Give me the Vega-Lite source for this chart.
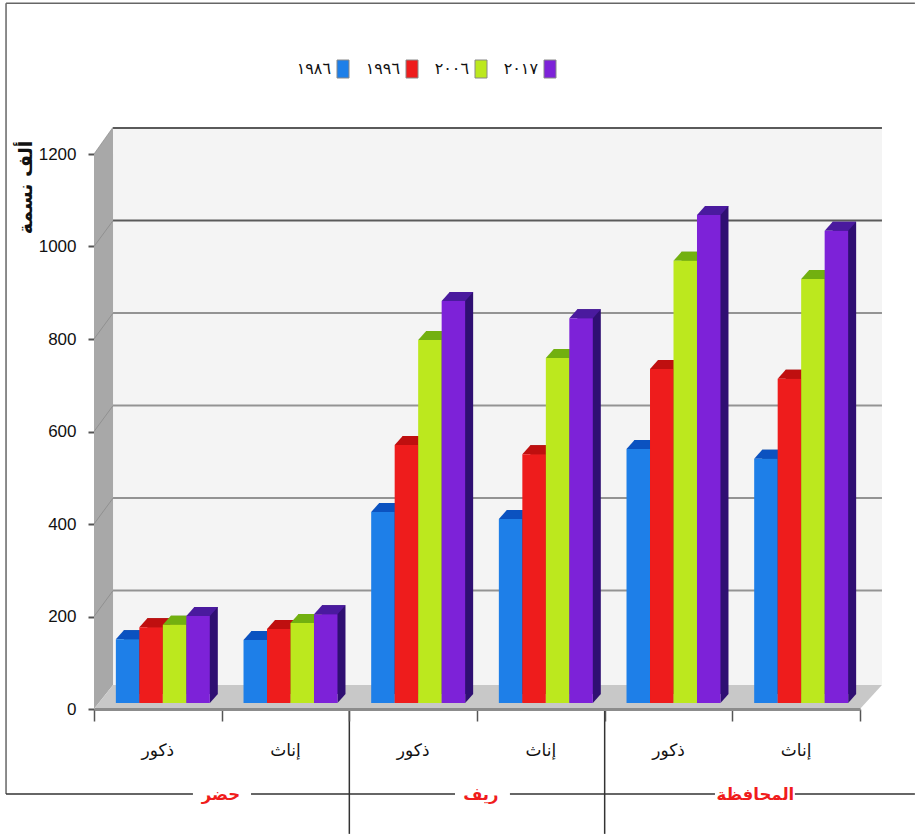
{
  "$schema": "https://vega.github.io/schema/vega-lite/v6.json",
  "width": 766,
  "height": 555,
  "autosize": "none",
  "padding": {"left": 94, "top": 154, "right": 55, "bottom": 126},
  "background": "white",
  "config": {"view": {"stroke": null}, "font": "DejaVu Sans"},
  "datasets": {
    "bars": [
      {"cat": "حضر|ذكور", "year": "١٩٨٦", "value": 138},
      {"cat": "حضر|ذكور", "year": "١٩٩٦", "value": 164},
      {"cat": "حضر|ذكور", "year": "٢٠٠٦", "value": 169},
      {"cat": "حضر|ذكور", "year": "٢٠١٧", "value": 188},
      {"cat": "حضر|إناث", "year": "١٩٨٦", "value": 136},
      {"cat": "حضر|إناث", "year": "١٩٩٦", "value": 160},
      {"cat": "حضر|إناث", "year": "٢٠٠٦", "value": 173},
      {"cat": "حضر|إناث", "year": "٢٠١٧", "value": 192},
      {"cat": "ريف|ذكور", "year": "١٩٨٦", "value": 413},
      {"cat": "ريف|ذكور", "year": "١٩٩٦", "value": 558},
      {"cat": "ريف|ذكور", "year": "٢٠٠٦", "value": 785},
      {"cat": "ريف|ذكور", "year": "٢٠١٧", "value": 869},
      {"cat": "ريف|إناث", "year": "١٩٨٦", "value": 398},
      {"cat": "ريف|إناث", "year": "١٩٩٦", "value": 538},
      {"cat": "ريف|إناث", "year": "٢٠٠٦", "value": 746},
      {"cat": "ريف|إناث", "year": "٢٠١٧", "value": 832},
      {"cat": "المحافظة|ذكور", "year": "١٩٨٦", "value": 549},
      {"cat": "المحافظة|ذكور", "year": "١٩٩٦", "value": 722},
      {"cat": "المحافظة|ذكور", "year": "٢٠٠٦", "value": 956},
      {"cat": "المحافظة|ذكور", "year": "٢٠١٧", "value": 1055},
      {"cat": "المحافظة|إناث", "year": "١٩٨٦", "value": 528},
      {"cat": "المحافظة|إناث", "year": "١٩٩٦", "value": 701},
      {"cat": "المحافظة|إناث", "year": "٢٠٠٦", "value": 917},
      {"cat": "المحافظة|إناث", "year": "٢٠١٧", "value": 1021}
    ],
    "segments": [
      {"kind": "frame", "a": -0.689, "b": 6.43, "u": 1526, "v": 1526},
      {"kind": "frame", "a": -0.689, "b": -0.689, "u": -184, "v": 1526},
      {"kind": "rule", "a": -0.689, "b": 0.775, "u": -184, "v": -184},
      {"kind": "rule", "a": 1.23, "b": 2.828, "u": -184, "v": -184},
      {"kind": "rule", "a": 3.258, "b": 4.864, "u": -184, "v": -184},
      {"kind": "rule", "a": 5.49, "b": 6.43, "u": -184, "v": -184},
      {"kind": "rule", "a": 2, "b": 2, "u": 0, "v": -270},
      {"kind": "rule", "a": 4, "b": 4, "u": 0, "v": -270}
    ],
    "groups": [
      {"pos": 0.995, "level": -186, "label": "حضر"},
      {"pos": 3.03, "level": -186, "label": "ريف"},
      {"pos": 5.18, "level": -186, "label": "المحافظة"}
    ],
    "sideWall": [
      {"pos": 0, "low": 0, "high": 1200},
      {"pos": 0.149, "low": 52, "high": 1258}
    ],
    "floor": [
      {"level": 0, "left": 0, "right": 6},
      {"level": 52, "left": 0.149, "right": 6.172}
    ],
    "gridLevels": [
      {"level": 200}, {"level": 400}, {"level": 600},
      {"level": 800}, {"level": 1000}, {"level": 1200}
    ],
    "slants": [
      {"pos": 0, "level": 1200, "line": 1200},
      {"pos": 0.149, "level": 1258, "line": 1200},
      {"pos": 0, "level": 1000, "line": 1000},
      {"pos": 0.149, "level": 1056, "line": 1000},
      {"pos": 0, "level": 800, "line": 800},
      {"pos": 0.149, "level": 856, "line": 800},
      {"pos": 0, "level": 600, "line": 600},
      {"pos": 0.149, "level": 656, "line": 600},
      {"pos": 0, "level": 400, "line": 400},
      {"pos": 0.149, "level": 456, "line": 400},
      {"pos": 0, "level": 200, "line": 200},
      {"pos": 0.149, "level": 256, "line": 200}
    ]
  },
  "resolve": {"scale": {"x": "independent", "y": "independent"}, "axis": {"x": "independent", "y": "independent"}},
  "layer": [
    {
      "resolve": {"axis": {"x": "independent", "y": "independent"}},
      "layer": [
        {
          "data": {"name": "gridLevels"},
          "transform": [{"filter": "datum.level === 1200"}],
          "mark": {"type": "rect", "fill": "#f4f4f4"},
          "encoding": {
            "x": {"datum": 0.149, "type": "quantitative", "scale": {"domain": [0, 6], "nice": false, "zero": false}, "axis": null},
            "x2": {"datum": 6.172},
            "y": {"datum": 52, "type": "quantitative", "scale": {"domain": [0, 1200], "nice": false}, "axis": {"orient": "left", "values": [0, 200, 400, 600, 800, 1000, 1200], "format": "d", "grid": false, "domain": false, "tickColor": "#555555", "tickWidth": 2, "tickSize": 6, "labelFont": "Liberation Sans", "labelFontSize": 17, "labelColor": "#111111", "labelPadding": 12, "title": "ألف نسمة", "titleFont": "DejaVu Sans", "titleFontSize": 19, "titleFontWeight": "bold", "titleColor": "#111111", "titleX": -69, "titleY": 33, "titleAngle": -90, "titleAlign": "center", "titleBaseline": "middle"}},
            "y2": {"datum": 1258}
          }
        },
        {
          "data": {"name": "sideWall"},
          "mark": {"type": "area", "fill": "#a8a8a8", "orient": "vertical"},
          "encoding": {
            "x": {"field": "pos", "type": "quantitative", "scale": {"domain": [0, 6], "nice": false, "zero": false}, "axis": null},
            "y": {"field": "low", "type": "quantitative", "stack": null, "scale": {"domain": [0, 1200], "nice": false}, "axis": null},
            "y2": {"field": "high"}
          }
        },
        {
          "data": {"name": "floor"},
          "mark": {"type": "area", "fill": "#c8c8c8", "orient": "horizontal"},
          "encoding": {
            "y": {"field": "level", "type": "quantitative", "scale": {"domain": [0, 1200], "nice": false}, "axis": null},
            "x": {"field": "left", "type": "quantitative", "stack": null, "scale": {"domain": [0, 6], "nice": false, "zero": false}, "axis": {"orient": "bottom", "values": [0, 1, 2, 3, 4, 5, 6], "labels": false, "title": null, "grid": false, "domain": true, "domainColor": "#8c8c8c", "domainWidth": 3, "tickColor": "#555555", "tickWidth": 1.5, "tickSize": 12, "zindex": 1}},
            "x2": {"field": "right"}
          }
        },
        {
          "data": {"name": "slants"},
          "mark": {"type": "line", "strokeWidth": 1, "opacity": 0.6},
          "encoding": {
            "x": {"field": "pos", "type": "quantitative", "scale": {"domain": [0, 6], "nice": false, "zero": false}, "axis": null},
            "y": {"field": "level", "type": "quantitative", "scale": {"domain": [0, 1200], "nice": false}, "axis": null},
            "detail": {"field": "line"},
            "color": {"value": "#808080"}
          }
        },
        {
          "data": {"name": "gridLevels"},
          "mark": {"type": "rule", "strokeWidth": 2, "yOffset": -26},
          "encoding": {
            "x": {"datum": 0.149, "type": "quantitative", "scale": {"domain": [0, 6], "nice": false, "zero": false}, "axis": null},
            "x2": {"datum": 6.172},
            "y": {"field": "level", "type": "quantitative", "scale": {"domain": [0, 1200], "nice": false}, "axis": null},
            "stroke": {"condition": {"test": "datum.level >= 1000", "value": "#5a5a5a"}, "value": "#939393"}
          }
        },
        {
          "data": {"name": "segments"},
          "mark": {"type": "rule", "strokeWidth": 1.5},
          "encoding": {
            "x": {"field": "a", "type": "quantitative", "scale": {"domain": [0, 6], "nice": false, "zero": false}, "axis": null},
            "x2": {"field": "b"},
            "y": {"field": "u", "type": "quantitative", "scale": {"domain": [0, 1200], "nice": false}, "axis": null},
            "y2": {"field": "v"},
            "stroke": {"condition": {"test": "datum.kind === 'frame'", "value": "#666666"}, "value": "#333333"}
          }
        },
        {
          "data": {"name": "groups"},
          "mark": {"type": "text", "font": "DejaVu Sans", "fontSize": 16.5, "fontWeight": "bold", "color": "#f01c1c", "align": "center", "baseline": "middle"},
          "encoding": {
            "x": {"field": "pos", "type": "quantitative", "scale": {"domain": [0, 6], "nice": false, "zero": false}, "axis": null},
            "y": {"field": "level", "type": "quantitative", "scale": {"domain": [0, 1200], "nice": false}, "axis": null},
            "text": {"field": "label"}
          }
        }
      ]
    },
    {
      "data": {"name": "bars"},
      "resolve": {"scale": {"color": "independent", "x": "independent", "y": "independent", "xOffset": "independent"}, "axis": {"x": "independent", "y": "independent"}},
      "layer": [
        {
          "mark": {"type": "bar"},
          "encoding": {
            "x": {"field": "cat", "type": "nominal", "sort": null, "scale": {"range": [13, 779], "paddingInner": 0.264, "paddingOuter": 0.132}, "axis": null},
            "xOffset": {"field": "year", "type": "nominal", "sort": null, "scale": {"paddingInner": 0, "paddingOuter": 0}},
            "y": {"field": "value", "type": "quantitative", "stack": null, "scale": {"domain": [0, 1200], "nice": false, "range": [540, -15]}, "axis": null},
            "color": {"field": "year", "type": "nominal", "sort": null, "legend": null, "scale": {"range": ["#0a3c8c", "#8c0f0f", "#5e8c10", "#2f0f72"]}}
          }
        },
        {
          "mark": {"type": "point", "filled": true, "opacity": 1, "size": 4, "shape": "M11.75,0L19.75,-9L11.75,-9Z"},
          "encoding": {
            "x": {"field": "cat", "type": "nominal", "sort": null, "scale": {"range": [5, 771], "paddingInner": 0.264, "paddingOuter": 0.132}, "axis": null},
            "xOffset": {"field": "year", "type": "nominal", "sort": null, "scale": {"range": [11.75, 82.25], "padding": 0}},
            "y": {"datum": 0, "type": "quantitative", "scale": {"domain": [0, 1200], "nice": false, "range": [549, -6]}, "axis": null},
            "color": {"field": "year", "type": "nominal", "sort": null, "legend": null, "scale": {"range": ["#0a3c8c", "#8c0f0f", "#5e8c10", "#2f0f72"]}}
          }
        },
        {
          "mark": {"type": "point", "filled": true, "opacity": 1, "size": 4, "shape": "M-11.75,0L11.75,0L19.75,-9L-3.75,-9Z"},
          "encoding": {
            "x": {"field": "cat", "type": "nominal", "sort": null, "scale": {"range": [5, 771], "paddingInner": 0.264, "paddingOuter": 0.132}, "axis": null},
            "xOffset": {"field": "year", "type": "nominal", "sort": null, "scale": {"range": [11.75, 82.25], "padding": 0}},
            "y": {"field": "value", "type": "quantitative", "scale": {"domain": [0, 1200], "nice": false, "range": [549, -6]}, "axis": null},
            "color": {"field": "year", "type": "nominal", "sort": null, "legend": null, "scale": {"range": ["#0b52c0", "#bf0f0f", "#72b010", "#4a1a9e"]}}
          }
        },
        {
          "mark": {"type": "bar"},
          "encoding": {
            "x": {"field": "cat", "type": "nominal", "sort": null, "scale": {"range": [5, 771], "paddingInner": 0.264, "paddingOuter": 0.132}, "axis": {"orient": "bottom", "title": null, "domain": false, "ticks": false, "labelAngle": 0, "labelOffset": -5, "labelFont": "DejaVu Sans", "labelFontSize": 17, "labelColor": "#111111", "labelPadding": 33, "labelExpr": "split(datum.value, '|')[1]"}},
            "xOffset": {"field": "year", "type": "nominal", "sort": null, "scale": {"paddingInner": 0, "paddingOuter": 0}},
            "y": {"field": "value", "type": "quantitative", "stack": null, "scale": {"domain": [0, 1200], "nice": false, "range": [549, -6]}, "axis": null},
            "color": {"field": "year", "type": "nominal", "sort": null, "scale": {"range": ["#1e7fe8", "#ee1c1c", "#bce81e", "#7d22d8"]},
              "legend": {"orient": "none", "legendX": 241, "legendY": -93, "direction": "horizontal", "columns": 4, "title": null, "symbolType": "M-1,-1.5L1,-1.5L1,1.5L-1,1.5Z", "symbolSize": 144, "symbolStrokeColor": "#888888", "symbolStrokeWidth": 1, "labelAlign": "right", "labelOffset": -20, "labelFont": "DejaVu Sans", "labelFontSize": 16, "labelColor": "#111111", "columnPadding": 14}}
          }
        }
      ]
    }
  ]
}
